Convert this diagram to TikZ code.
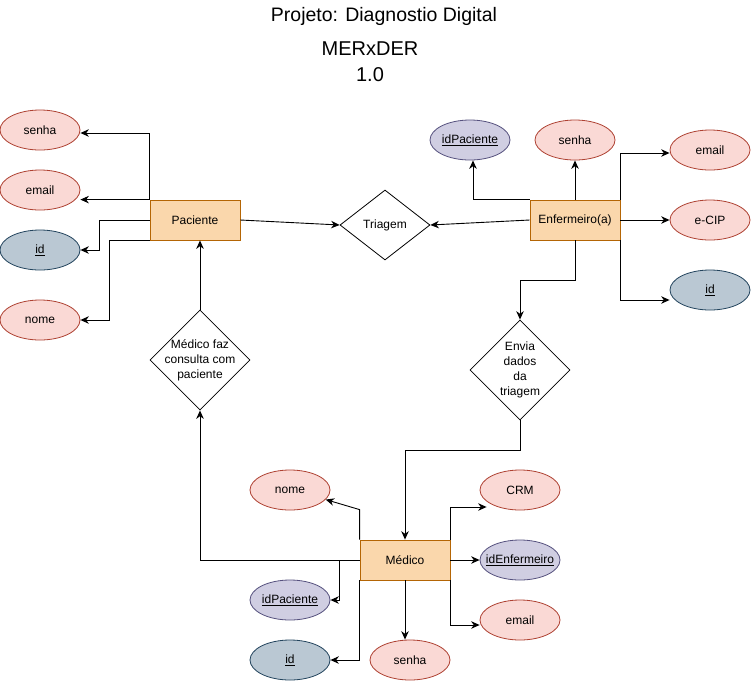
\documentclass[tikz,border=0pt]{standalone}
\usepackage{fontspec}
\setmainfont{Liberation Sans}
\usetikzlibrary{shapes.geometric,arrows.meta,calc}
\definecolor{attrfill}{HTML}{FAD9D5}
\definecolor{attrdraw}{HTML}{AE4132}
\definecolor{pkfill}{HTML}{BAC8D3}
\definecolor{pkdraw}{HTML}{23445D}
\definecolor{fkfill}{HTML}{D0CEE2}
\definecolor{fkdraw}{HTML}{56517E}
\definecolor{entfill}{HTML}{FAD7AC}
\definecolor{entdraw}{HTML}{B46504}
\begin{document}
\begin{tikzpicture}[x=1pt,y=-1pt, font=\fontsize{12}{14}\selectfont,
 attr/.style={ellipse, draw=attrdraw, fill=attrfill, line width=0.8pt, minimum width=80pt, minimum height=40pt, inner sep=0pt},
 pk/.style={attr, draw=pkdraw, fill=pkfill},
 fk/.style={attr, draw=fkdraw, fill=fkfill},
 ent/.style={rectangle, draw=entdraw, fill=entfill, line width=0.8pt, minimum width=90pt, minimum height=40pt, inner sep=0pt},
 rel/.style={diamond, draw=black, fill=white, line width=0.8pt, inner sep=0pt},
 conn/.style={draw=black, line width=0.9pt, -{Stealth[length=8.5pt,width=7.5pt]}}]
\useasboundingbox (0,0) rectangle (752,681);

% titles
\node (title) at (384,16) {\fontsize{19.5}{22}\selectfont Projeto: Diagnostio Digital};
\node[align=center, font=\fontsize{20}{26}\selectfont] (ver) at (370,62) {MERxDER\\1.0};

% entities
\node[ent] (pac) at (195,220) {Paciente};
\node[ent] (enf) at (575,220) {Enfermeiro(a)};
\node[ent] (med) at (405,560) {Médico};

% relationships
\node[rel, minimum width=90pt, minimum height=70pt, label=center:Triagem] (tri) at (385,225) {};
\node[rel, minimum width=100pt, minimum height=100pt, label={[align=center, font=\fontsize{12}{15}\selectfont]center:Médico faz\\consulta com\\paciente}] (mfaz) at (200,360) {};
\node[rel, minimum width=100pt, minimum height=100pt, label={[align=center, font=\fontsize{12}{15}\selectfont]center:Envia\\dados\\da\\triagem}] (env) at (520,370) {};

% Paciente attributes
\node[attr] (psenha) at (40,130) {senha};
\node[attr] (pemail) at (40,190) {email};
\node[pk] (pid) at (40,250) {\underline{id}};
\node[attr] (pnome) at (40,320) {nome};

% Enfermeiro attributes
\node[fk] (eidp) at (470,140) {\makebox[0pt]{\underline{idPaciente}}};
\node[attr] (esenha) at (575,140) {senha};
\node[attr] (eemail) at (710,150) {email};
\node[attr] (ecip) at (710,220) {e-CIP};
\node[pk] (eid) at (710,290) {\underline{id}};

% Medico attributes
\node[attr] (mnome) at (290,490) {nome};
\node[attr] (mcrm) at (520,490) {CRM};
\node[fk] (menf) at (520,560) {\makebox[0pt]{\underline{idEnfermeiro}}};
\node[attr] (memail) at (520,620) {email};
\node[attr] (msenha) at (410,660) {senha};
\node[fk] (midp) at (290,600) {\makebox[0pt]{\underline{idPaciente}}};
\node[pk] (mid) at (290,660) {\underline{id}};

% connectors Paciente
\draw[conn] (pac.north west) |- ($(psenha.east)+(0,3)$);
\draw[conn] (pac.north west) -- (pemail.east |- pac.north west);
\draw[conn] (pac.west) -- ++(-50,0) |- (pid.east);
\draw[conn] (pac.south west) -- ++(-40,0) |- (pnome.east);
\draw[conn] (pac.east) -- (tri.west);

% connectors Enfermeiro
\draw[conn] (enf.west) -- (tri.east);
\draw[conn] (enf.north west) -| ($(eidp.south)+(3,0)$);
\draw[conn] (enf.north) -- (esenha.south);
\draw[conn] (enf.north east) |- ($(eemail.west)+(0,3)$);
\draw[conn] (enf.east) -- (ecip.west);
\draw[conn] (enf.south east) |- ($(eid.west)+(0,10)$);
\draw[conn] (enf.south) -- ++(0,40) -| (env.north);

% connectors relationships / Medico
\draw[conn] (env.south) -- ++(0,30) -| (med.north);
\draw[conn] (med.west) -| (mfaz.south);
\draw[conn] (mfaz.north) -- (mfaz.north |- pac.south);
\draw[conn] (med.north west) -- ++(0,-30) -- (mnome.-15);
\draw[conn] (med.north east) |- ($(mcrm.west)+(7,17)$);
\draw[conn] (med.east) -- (menf.west);
\draw[conn] (med.south east) |- ($(memail.west)+(0,5)$);
\draw[conn] (med.south) -- (med.south |- msenha.north);
\draw[conn] (med.west) -- ++(-20,0) |- (midp.east);
\draw[conn] (med.south west) |- (mid.east);
\end{tikzpicture}
\end{document}
